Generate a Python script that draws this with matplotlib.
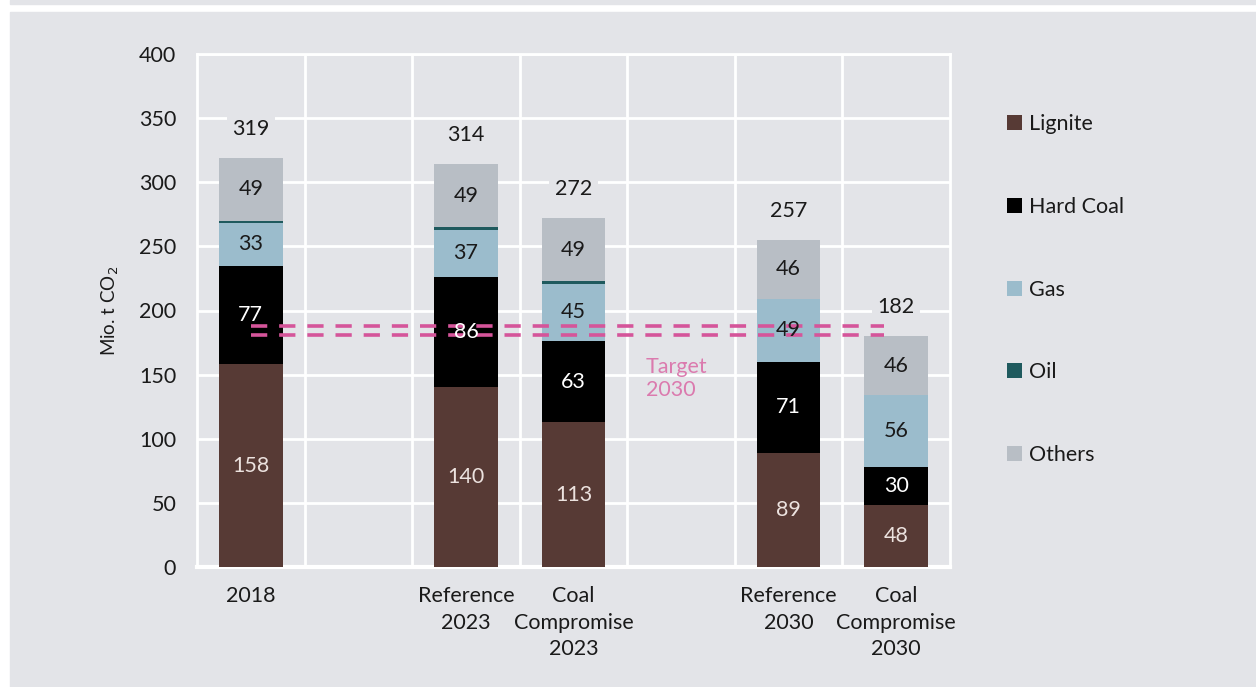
import matplotlib
matplotlib.use("Agg")
import matplotlib.pyplot as plt
from matplotlib.patches import Rectangle
import numpy as np

plt.rcParams['font.family'] = ['Lato', 'DejaVu Sans']

categories = ["2018", "", "Reference\n2023", "Coal\nCompromise\n2023", "", "Reference\n2030", "Coal\nCompromise\n2030"]
lignite   = [158, 0, 140, 113, 0, 89, 48]
hard_coal = [77, 0, 86, 63, 0, 71, 30]
gas       = [33, 0, 37, 45, 0, 49, 56]
oil       = [2, 0, 2, 2, 0, 0, 0]
others    = [49, 0, 49, 49, 0, 46, 46]
totals    = [319, None, 314, 272, None, 257, 182]
target_band = [181, 188]

series = [("Lignite", lignite, "#573a35", "#ece2df"),
          ("Hard Coal", hard_coal, "#000000", "#ffffff"),
          ("Gas", gas, "#9bbccc", "#1a1a1a"),
          ("Oil", oil, "#1f5a5e", "#ffffff"),
          ("Others", others, "#b8bec5", "#1a1a1a")]

BG = "#e3e4e8"
FS = 15.5
fig = plt.figure(figsize=(12.56, 6.87), dpi=100, facecolor="white")
fig.patches.append(Rectangle((10/1256, 1-4/687), 1, 4/687, transform=fig.transFigure, color=BG, zorder=-10))
fig.patches.append(Rectangle((10/1256, 0), 1, 1-12/687, transform=fig.transFigure, color=BG, zorder=-10))

ax = fig.add_axes([197/1256, 1-567/687, (950-197)/1256, (567-54)/687])
ax.set_facecolor(BG)

x = np.arange(len(categories))
bottom = np.zeros(len(categories))
for name, vals, col, tcol in series:
    vals = np.array(vals, dtype=float)
    ax.bar(x, vals, width=0.59, bottom=bottom, color=col, label=name, zorder=3)
    if name != "Oil":
        for xi, v, b in zip(x, vals, bottom):
            if v > 0:
                ax.text(xi, b + v/2, f"{int(v)}", ha="center", va="center",
                        color=tcol, fontsize=FS, zorder=6)
    bottom += vals

for xi, t, b in zip(x, totals, bottom):
    if t is not None:
        ax.annotate(f"{t}", (xi, b), xytext=(0, 21), textcoords="offset points",
                    ha="center", va="center", fontsize=FS, color="#1a1a1a",
                    bbox=dict(boxstyle="square,pad=0.25", fc=BG, ec="none"), zorder=4)

for yv in target_band:
    ax.plot([0, 5.89], [yv, yv], color="#d5559a", lw=2.6, dashes=(4.5, 3.3), zorder=5,
            dash_capstyle="butt")
ax.text(3.67, 147, "Target\n2030", color="#db7aae", fontsize=FS,
        ha="left", va="center", linespacing=1.2, zorder=5)

ax.set_xlim(-0.5, 6.5)
ax.set_ylim(0, 400)
ax.set_yticks(np.arange(0, 401, 50))
ax.set_xticks([0, 2, 3, 5, 6])
ax.set_xticklabels([categories[i] for i in [0, 2, 3, 5, 6]], linespacing=1.4)
ax.tick_params(length=0, labelsize=FS, colors="#1a1a1a")
ax.tick_params(axis="x", pad=14)
ax.tick_params(axis="y", pad=15)
ax.yaxis.grid(True, color="white", lw=2, zorder=0)
for xv in np.arange(0.5, 6, 1):
    ax.axvline(xv, color="white", lw=2, zorder=0)
for s in ax.spines.values():
    s.set_color("white")
    s.set_linewidth(2)
ax.spines["bottom"].set_linewidth(3)
ax.set_ylabel("Mio. t CO$_2$", fontsize=13.5, color="#1a1a1a", labelpad=13)

leg = ax.legend(loc="upper left", bbox_to_anchor=(1.05, 0.921), frameon=False,
                fontsize=FS, handlelength=0.7, handleheight=0.7, handletextpad=0.3,
                labelspacing=2.92)
for t in leg.get_texts():
    t.set_color("#1a1a1a")

fig.savefig("out.png", dpi=100, facecolor=fig.get_facecolor())
